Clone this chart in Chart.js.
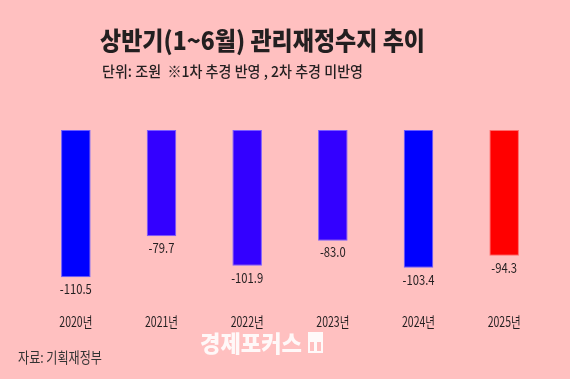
<!DOCTYPE html>
<html>
<head>
<meta charset="utf-8">
<script src="https://cdn.jsdelivr.net/npm/chart.js@4"></script>
<style>
html,body{margin:0;padding:0;background:#ffc0c0;}
canvas{display:block;}
</style>
</head>
<body>
<canvas id="c" width="570" height="379"></canvas>
<script>
const categories = ["2020년","2021년","2022년","2023년","2024년","2025년"];
const values = [-110.5, -79.7, -101.9, -83.0, -103.4, -94.3];
const valueLabels = ["-110.5","-79.7","-101.9","-83.0","-103.4","-94.3"];
const barColors = ["#0000ff","#3300ff","#3300ff","#3300ff","#0000ff","#ff0000"];
const borderColors = ["#6a5cff","#7a5cff","#7a5cff","#7a5cff","#6a5cff","#ff6a6a"];
const titleText = "상반기(1~6월) 관리재정수지 추이";
const subtitleText = "단위: 조원  ※1차 추경 반영 , 2차 추경 미반영";
const sourceText = "자료: 기획재정부";
const watermarkText = "경제포커스";

const FONT = '"Noto Sans CJK KR", "Noto Sans", sans-serif';

function drawFit(ctx, text, cx, cy, font, color, targetW, sx) {
  ctx.save();
  ctx.font = font;
  ctx.fillStyle = color;
  ctx.textAlign = 'center';
  ctx.textBaseline = 'middle';
  const w = ctx.measureText(text).width;
  const s = targetW ? targetW / w : (sx || 1);
  ctx.translate(cx, cy);
  ctx.scale(s, 1);
  ctx.fillText(text, 0, 0);
  ctx.restore();
}

const bgPlugin = {
  id: 'bg',
  beforeDraw(chart) {
    const ctx = chart.ctx;
    ctx.save();
    ctx.fillStyle = '#ffc0c0';
    ctx.fillRect(0, 0, chart.width, chart.height);
    ctx.restore();
  }
};

const textPlugin = {
  id: 'texts',
  afterDatasetsDraw(chart) {
    const ctx = chart.ctx;
    // title & subtitle
    drawFit(ctx, titleText, 262.5, 40, '900 25px ' + FONT, '#231f20', 325);
    drawFit(ctx, subtitleText, 232.5, 71.5, '500 15px ' + FONT, '#231f20', 261);
    // value labels
    const meta = chart.getDatasetMeta(0);
    ctx.save();
    ctx.font = '14px ' + FONT;
    const refW = ctx.measureText('-110.5').width;
    ctx.restore();
    const vs = 32 / refW;
    meta.data.forEach((bar, i) => {
      drawFit(ctx, valueLabels[i], bar.x, bar.y + 11.5, '14px ' + FONT, '#231f20', null, vs);
    });
    // category labels
    const xs = chart.scales.x;
    ctx.save();
    ctx.font = '14px ' + FONT;
    const cW = ctx.measureText('2020년').width;
    ctx.restore();
    const cs = 33 / cW;
    categories.forEach((c, i) => {
      drawFit(ctx, c, xs.getPixelForValue(i), 322, '14px ' + FONT, '#231f20', null, cs);
    });
    // source
    drawFit(ctx, sourceText, 60, 357, '15px ' + FONT, '#333333', 84);
    // watermark
    drawFit(ctx, watermarkText, 251, 343, '900 23px ' + FONT, 'rgba(255,255,255,0.88)', 102);
    ctx.save();
    ctx.fillStyle = 'rgba(255,255,255,0.9)';
    ctx.fillRect(308, 332, 15, 21);
    ctx.fillStyle = '#ffc0c0';
    ctx.fillRect(310, 342, 4, 9);
    ctx.fillRect(317, 342, 4, 9);
    ctx.restore();
  }
};

new Chart(document.getElementById('c'), {
  type: 'bar',
  data: {
    labels: categories,
    datasets: [{
      data: values,
      backgroundColor: barColors,
      borderColor: borderColors,
      borderWidth: 1,
      borderSkipped: false,
      categoryPercentage: 1,
      barPercentage: 0.345
    }]
  },
  options: {
    responsive: false,
    devicePixelRatio: 1,
    animation: false,
    layout: { padding: { left: 33, right: 23, top: 130, bottom: 69 } },
    plugins: { legend: { display: false }, tooltip: { enabled: false }, title: { display: false } },
    scales: {
      x: { display: false },
      y: { display: false, min: -135, max: 0 }
    }
  },
  plugins: [bgPlugin, textPlugin]
});
</script>
</body>
</html>
